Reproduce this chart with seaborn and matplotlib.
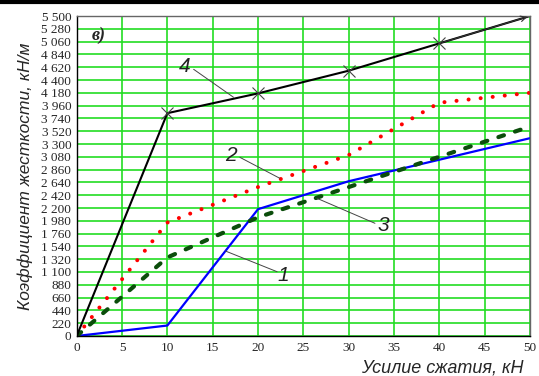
import matplotlib
matplotlib.use("Agg")
import matplotlib.pyplot as plt
import numpy as np
import seaborn as sns
from matplotlib.ticker import FuncFormatter, MultipleLocator

# Data (force kN -> stiffness kN/m).
x_force = [0, 10, 20, 30, 40, 50]
stiff_1 = [0, 180, 2180, 2660, 3030, 3400]
stiff_2 = [0, 1950, 2560, 3110, 4010, 4180]
stiff_3 = [0, 1350, 2040, 2560, 3080, 3600]
stiff_4 = [0, 3830, 4170, 4560, 5030, 5500]

x_ticks = list(range(0, 55, 5))
y_ticks = list(range(0, 5720, 220))

x_label = "Усилие сжатия, кН"
y_label = "Коэффициент жесткости, кН/м"
panel_label = "в)"

sns.set_style("white")
plt.rcParams["font.family"] = ["Liberation Sans", "DejaVu Sans"]

fig = plt.figure(figsize=(5.39, 3.76), dpi=100)
ax = fig.add_axes([0.1423, 0.1064, 0.8410, 0.8510])

# Line 1: blue solid
sns.lineplot(x=x_force, y=stiff_1, ax=ax, color="#0000ff", linewidth=1.6,
             sort=False, estimator=None)
# Line 2: red dotted
sns.lineplot(x=x_force, y=stiff_2, ax=ax, color="#ff0000", linewidth=2.9,
             sort=False, estimator=None, linestyle=(0, (0.01, 3.0)),
             dash_capstyle="round")
# Line 3: dark green dashed
sns.lineplot(x=x_force, y=stiff_3, ax=ax, color="#0b4d0b", linewidth=3.0,
             sort=False, estimator=None, linestyle=(0, (1.4, 2.8)),
             dash_capstyle="round")
# Line 4: black with crosses
sns.lineplot(x=x_force, y=stiff_4, ax=ax, color="black", linewidth=1.5,
             sort=False, estimator=None)
ax.plot(x_force[1:-1], stiff_4[1:-1], linestyle="none", marker="x",
        markersize=9, markeredgewidth=0.8, color="#444444", zorder=5)
ax.annotate("", xy=(x_force[-1], stiff_4[-1]), xytext=(x_force[-2], stiff_4[-2]),
            arrowprops=dict(arrowstyle="->", color="#333333", lw=0.8,
                            mutation_scale=10))

ax.set_xlim(0, 50)
ax.set_ylim(0, 5500)
ax.set_xticks(x_ticks)
ax.set_yticks(y_ticks)
ax.yaxis.set_major_formatter(FuncFormatter(lambda v, p: f"{int(v):,}".replace(",", " ")))
ax.grid(True, color="#22dd22", linewidth=1.2)
ax.set_axisbelow(True)
ax.tick_params(axis="both", length=3, width=0.8, pad=1, labelsize=9.5)
for lab in ax.get_xticklabels() + ax.get_yticklabels():
    lab.set_family(["Liberation Serif", "DejaVu Serif"])
for side in ["left", "bottom"]:
    ax.spines[side].set_color("black")
    ax.spines[side].set_linewidth(1.0)
for side in ["top", "right"]:
    ax.spines[side].set_color("#666666")
    ax.spines[side].set_linewidth(1.0)

ax.set_xlabel(x_label, fontsize=13, style="italic")
ax.xaxis.set_label_coords(0.985, -0.075)
ax.xaxis.label.set_horizontalalignment("right")
ax.set_ylabel(y_label, fontsize=12.5, style="italic", labelpad=6)

# Curve numbers with leader lines
labels = [
    ("4", (11.9, 4640), (12.9, 4584), (17.3, 4103)),
    ("2", (17.0, 3111), (18.0, 3071), (22.4, 2711)),
    ("3", (33.8, 1891), (32.9, 1937), (26.5, 2367)),
    ("1", (22.8, 1048), (22.1, 1105), (16.4, 1461)),
]
for txt, tpos, p0, p1 in labels:
    ax.plot([p0[0], p1[0]], [p0[1], p1[1]], color="#444444", linewidth=0.7, zorder=4)
    ax.text(tpos[0], tpos[1], txt, fontsize=15, style="italic",
            ha="center", va="center", color="#222222", zorder=6)

ax.text(2.4, 5174, panel_label, fontsize=13, style="italic", weight="bold",
        ha="center", va="center", family=["Liberation Serif", "DejaVu Serif"])

# Black bar at the very top of the image (cropping artefact)
fig.add_artist(plt.Line2D([0.0, 1.0], [0.996, 0.996], color="black",
                          linewidth=3.0, transform=fig.transFigure))

fig.savefig("out.png", dpi=100)
